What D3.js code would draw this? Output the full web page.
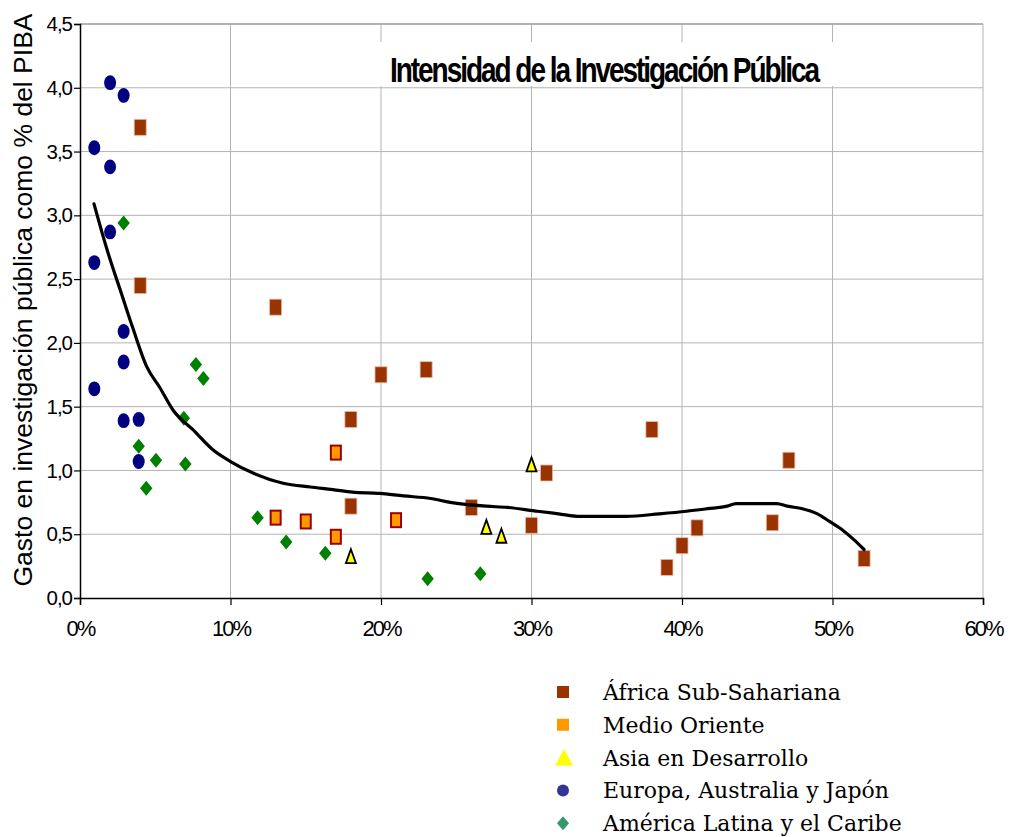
<!DOCTYPE html>
<html>
<head>
<meta charset="utf-8">
<script src="https://cdn.jsdelivr.net/npm/d3@7"></script>
<style>
  html, body { margin: 0; padding: 0; background: #fff; }
  svg { display: block; }
</style>
</head>
<body>
<svg id="chart" width="1012" height="837"></svg>
<script>
// ---- Data (x = % of ..., y = public research spending as % of GDP) ----
const seriesNames = ["África Sub-Sahariana", "Medio Oriente", "Asia en Desarrollo", "Europa, Australia y Japón", "América Latina y el Caribe"];

const africaX = [4, 4, 13, 20, 23, 18, 18, 26, 31, 30, 38, 47.1, 41, 40, 39, 46, 52.1];
const africaY = [3.69, 2.45, 2.28, 1.75, 1.79, 1.40, 0.72, 0.71, 0.98, 0.57, 1.32, 1.08, 0.55, 0.41, 0.24, 0.59, 0.31];

const medioX = [13, 15, 17, 17, 21];
const medioY = [0.63, 0.60, 1.14, 0.48, 0.61];

const asiaX = [18, 27, 28, 30];
const asiaY = [0.32, 0.55, 0.48, 1.04];

const europaX = [2, 2.9, 0.95, 2, 2, 0.95, 2.9, 2.9, 0.95, 2.9, 3.9, 3.9];
const europaY = [4.04, 3.94, 3.53, 3.38, 2.87, 2.63, 2.09, 1.85, 1.64, 1.39, 1.40, 1.07];

const latamX = [2.9, 7.7, 8.2, 6.9, 3.9, 5.05, 7.0, 4.4, 11.8, 13.7, 16.3, 23.1, 26.6];
const latamY = [2.94, 1.83, 1.72, 1.41, 1.19, 1.08, 1.05, 0.86, 0.63, 0.44, 0.35, 0.15, 0.19];

const trendX = [0.93, 1.8, 2.8, 3.5, 4.45, 5.3, 6.2, 7.5, 8.85, 10, 11.5, 13.5, 15.3, 16.8, 18.1, 19.9, 21.5, 23.3, 24.6, 27, 28.4, 30.4, 31.8, 33.2, 36.3, 38.5, 40.3, 41.7, 43, 43.6, 46.3, 47, 48, 49, 49.8, 50.7, 51.4, 52.1];
const trendY = [3.09, 2.73, 2.37, 2.12, 1.81, 1.65, 1.47, 1.32, 1.16, 1.07, 0.98, 0.90, 0.87, 0.85, 0.83, 0.82, 0.80, 0.78, 0.75, 0.72, 0.71, 0.68, 0.66, 0.64, 0.64, 0.66, 0.68, 0.70, 0.72, 0.74, 0.74, 0.72, 0.70, 0.66, 0.60, 0.53, 0.46, 0.38];

const xTicks = [0, 10, 20, 30, 40, 50, 60];
const yTicks = [0, 0.5, 1, 1.5, 2, 2.5, 3, 3.5, 4, 4.5];

const titleText = "Intensidad de la Investigación Pública";
const yAxisTitle = "Gasto en investigación pública como % del PIBA";

// ---- Layout ----
const svg = d3.select("#chart");
const pLeft = 80, pRight = 983, pTop = 24, pBottom = 598;
const x = d3.scaleLinear().domain([0, 60]).range([pLeft, pRight]);
const y = d3.scaleLinear().domain([0, 4.5]).range([pBottom, pTop]);

// Grid
const grid = svg.append("g");
grid.selectAll(".vg").data(xTicks.slice(1)).join("line")
  .attr("x1", d => x(d)).attr("x2", d => x(d))
  .attr("y1", pTop).attr("y2", pBottom)
  .attr("stroke", "#b4b4b4").attr("stroke-width", 1);
grid.selectAll(".hg").data(yTicks.slice(1)).join("line")
  .attr("x1", pLeft).attr("x2", pRight)
  .attr("y1", d => y(d)).attr("y2", d => y(d))
  .attr("stroke", d => d === 4.5 ? "#9a9a9a" : "#b4b4b4")
  .attr("stroke-width", d => d === 4.5 ? 1.5 : 1);

// Title with white background
svg.append("rect").attr("x", 358).attr("y", 42).attr("width", 525).attr("height", 44).attr("fill", "#fff");
const titleScale = 0.8;
const title = svg.append("text")
  .attr("transform", `translate(390,82) scale(${titleScale},1)`)
  .attr("font-family", "Liberation Sans, Arial, sans-serif")
  .attr("font-weight", "bold")
  .attr("font-size", 35)
  .attr("fill", "#000")
  .text(titleText);
{
  const natural = title.node().getComputedTextLength();
  const target = 430 / titleScale;
  const ls = (target - natural) / (titleText.length - 1);
  title.attr("letter-spacing", ls.toFixed(2) + "px");
}

// Axes
const xAxis = d3.axisBottom(x).tickValues(xTicks).tickSize(7).tickFormat(d => d + "%");
const yAxis = d3.axisLeft(y).tickValues(yTicks).tickSize(6).tickFormat(d => d3.format(".1f")(d).replace(".", ","));

const gx = svg.append("g").attr("transform", `translate(0,${pBottom})`).call(xAxis);
gx.select(".domain").attr("stroke", "#000").attr("stroke-width", 1.5);
gx.selectAll(".tick line").attr("stroke", "#000").attr("stroke-width", 1.2);
gx.selectAll(".tick text")
  .attr("font-family", "Liberation Sans, Arial, sans-serif")
  .attr("font-size", 22).attr("letter-spacing", "-2px")
  .attr("fill", "#000").attr("dy", "1.25em");

const gy = svg.append("g").attr("transform", `translate(${pLeft},0)`).call(yAxis);
gy.select(".domain").attr("stroke", "#000").attr("stroke-width", 1.5);
gy.selectAll(".tick line").attr("stroke", "#000").attr("stroke-width", 1.2);
gy.selectAll(".tick text")
  .attr("font-family", "Liberation Sans, Arial, sans-serif")
  .attr("font-size", 20.5).attr("letter-spacing", "-1px")
  .attr("fill", "#000").attr("x", -8);

// Y axis title
svg.append("text")
  .attr("transform", `translate(32,${(10 + 590) / 2}) rotate(-90)`)
  .attr("text-anchor", "middle")
  .attr("font-family", "Liberation Sans, Arial, sans-serif")
  .attr("font-size", 26.5)
  .attr("fill", "#000")
  .text(yAxisTitle);

// ---- Markers ----
const marks = svg.append("g");
const zip = (xs, ys) => xs.map((v, i) => ({ x: v, y: ys[i] }));

// Europa ellipses
marks.selectAll(".eu").data(zip(europaX, europaY)).join("ellipse")
  .attr("cx", d => x(d.x)).attr("cy", d => y(d.y))
  .attr("rx", 6).attr("ry", 7.4)
  .attr("fill", "#000080");

// América Latina diamonds
marks.selectAll(".la").data(zip(latamX, latamY)).join("path")
  .attr("transform", d => `translate(${x(d.x)},${y(d.y)})`)
  .attr("d", "M0,-7.5L6.2,0L0,7.5L-6.2,0Z")
  .attr("fill", "#008000");

// Africa squares
marks.selectAll(".af").data(zip(africaX, africaY)).join("rect")
  .attr("x", d => x(d.x) - 6).attr("y", d => y(d.y) - 8)
  .attr("width", 12).attr("height", 16)
  .attr("fill", "#993300").attr("stroke", "#e8b8a8").attr("stroke-width", 0.8);

// Medio Oriente squares
marks.selectAll(".mo").data(zip(medioX, medioY)).join("rect")
  .attr("x", d => x(d.x) - 5).attr("y", d => y(d.y) - 7)
  .attr("width", 10).attr("height", 14)
  .attr("fill", "#FF9900").attr("stroke", "#990000").attr("stroke-width", 2);

// Asia triangles
marks.selectAll(".as").data(zip(asiaX, asiaY)).join("path")
  .attr("transform", d => `translate(${x(d.x)},${y(d.y)})`)
  .attr("d", "M0,-8L5,6L-5,6Z")
  .attr("fill", "#FFFF00").attr("stroke", "#000").attr("stroke-width", 1.8).attr("stroke-linejoin", "miter");

// Trend line
const line = d3.line().x(d => x(d.x)).y(d => y(d.y)).curve(d3.curveMonotoneX);
svg.append("path")
  .datum(zip(trendX, trendY))
  .attr("d", line)
  .attr("fill", "none").attr("stroke", "#000").attr("stroke-width", 3.2)
  .attr("stroke-linecap", "round").attr("stroke-linejoin", "round");

// ---- Legend ----
const legendColors = ["#993300", "#FF9900", "#FFFF00", "#333399", "#339966"];
const legendShapes = ["square", "square", "triangle", "circle", "diamond"];
const lg = svg.append("g");
const rowY = i => 692 + i * 32.8;
seriesNames.forEach((name, i) => {
  const cy = rowY(i), cx = 563;
  const shape = legendShapes[i];
  if (shape === "square") {
    lg.append("rect").attr("x", cx - 6).attr("y", cy - 6).attr("width", 12).attr("height", 12).attr("fill", legendColors[i]);
  } else if (shape === "triangle") {
    lg.append("path").attr("transform", `translate(${cx + 1},${cy})`).attr("d", "M0,-8.5L9,8L-9,8Z").attr("fill", legendColors[i]);
  } else if (shape === "circle") {
    lg.append("circle").attr("cx", cx).attr("cy", cy).attr("r", 6).attr("fill", legendColors[i]);
  } else {
    lg.append("path").attr("transform", `translate(${cx},${cy})`).attr("d", "M0,-7L6,0L0,7L-6,0Z").attr("fill", legendColors[i]);
  }
  lg.append("text")
    .attr("x", 603).attr("y", cy + 8)
    .attr("font-family", "DejaVu Serif, serif")
    .attr("font-size", 22)
    .attr("fill", "#000")
    .text(name);
});
</script>
</body>
</html>
